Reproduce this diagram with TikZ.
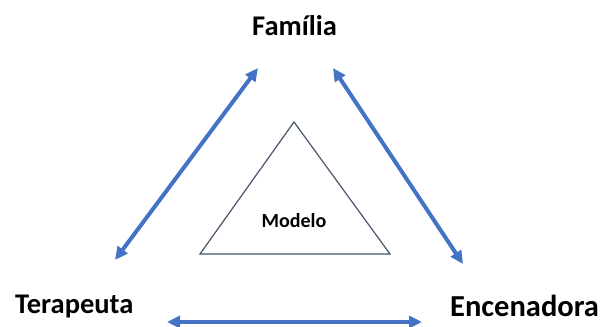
\documentclass[tikz,border=0pt]{standalone}
\usepackage{fontspec}
\setmainfont{Carlito}
\usetikzlibrary{arrows.meta}
\definecolor{linkblue}{HTML}{4472C4}
\definecolor{edgegray}{HTML}{44546A}
\tikzset{
  role/.style={font=\bfseries\fontsize{28.5}{34}\selectfont, inner sep=0pt},
  link/.style={linkblue, line width=4pt,
    {Triangle[length=13pt,width=12pt]}-{Triangle[length=13pt,width=12pt]}},
  model/.style={draw=edgegray, line width=1.2pt, line join=miter},
}
\begin{document}
\begin{tikzpicture}[x=1pt,y=-1pt]
  \useasboundingbox (0,0) rectangle (601,326);
  % role labels
  \node[role, anchor=base] (fam) at (294.5,36) {Família};
  \node[role, anchor=base west] (ter) at (15,313) {Terapeuta};
  \node[role, anchor=base west, font=\bfseries\fontsize{30.5}{36}\selectfont] (enc) at (450,316) {Encenadora};
  % arrow end points
  \coordinate (famL) at (258,68);
  \coordinate (famR) at (333,68);
  \coordinate (terU) at (115,260);
  \coordinate (terR) at (167,322);
  \coordinate (encU) at (463,264);
  \coordinate (encL) at (422,322);
  % two-way links
  \draw[link] (terU) -- (famL);
  \draw[link] (famR) -- (encU);
  \draw[link] (terR) -- (encL);
  % central triangle
  \coordinate (apex) at (294,122);
  \coordinate (bl) at (200,254);
  \coordinate (br) at (390,254);
  \draw[model] (apex) -- (br) -- (bl) -- cycle;
  \node[font=\bfseries\fontsize{20}{24}\selectfont, inner sep=0pt, anchor=base] (mod) at (294,227) {Modelo};
\end{tikzpicture}
\end{document}
